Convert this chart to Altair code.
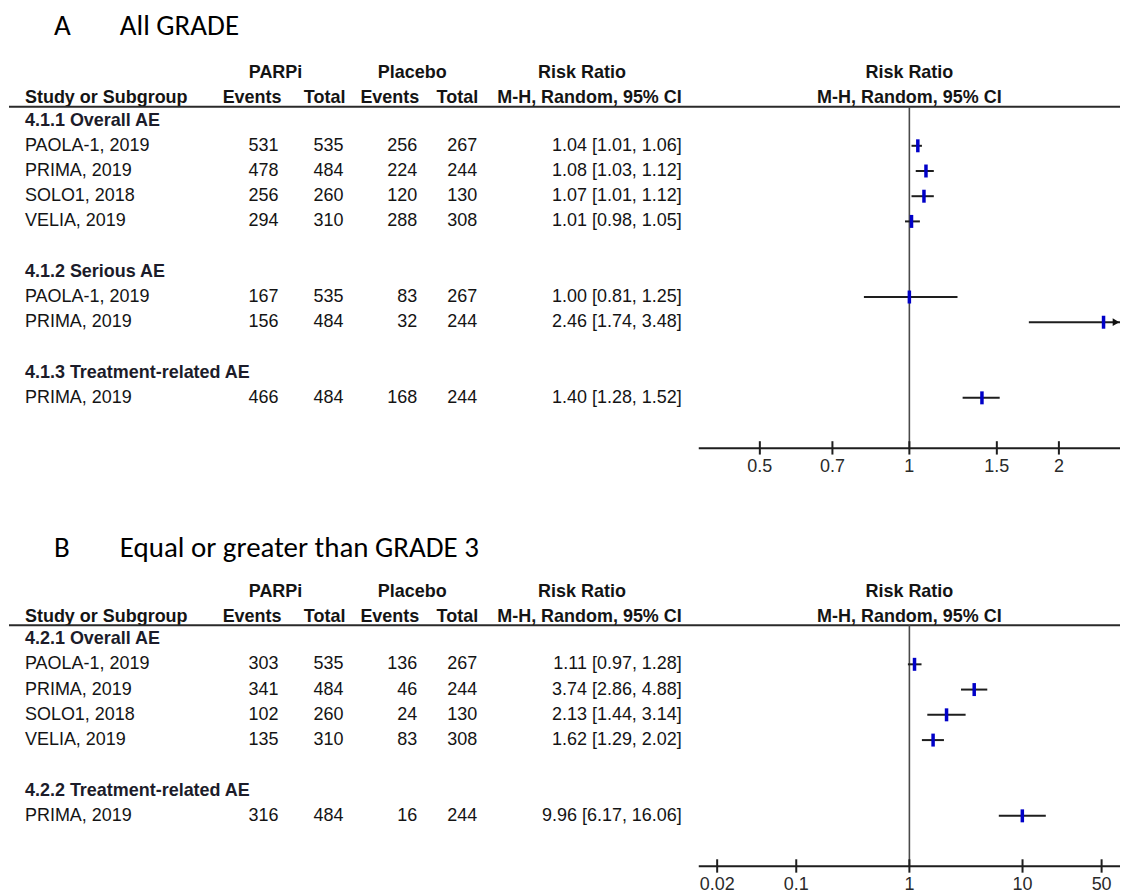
import altair as alt
import pandas as pd

# ---------------- data ----------------
a_groups = ["4.1.1 Overall AE", "4.1.2 Serious AE", "4.1.3 Treatment-related AE"]
a_group = [0, 0, 0, 0, 1, 1, 2]
a_study = ["PAOLA-1, 2019", "PRIMA, 2019", "SOLO1, 2018", "VELIA, 2019",
           "PAOLA-1, 2019", "PRIMA, 2019", "PRIMA, 2019"]
a_parp_events = [531, 478, 256, 294, 167, 156, 466]
a_parp_total = [535, 484, 260, 310, 535, 484, 484]
a_plac_events = [256, 224, 120, 288, 83, 32, 168]
a_plac_total = [267, 244, 130, 308, 267, 244, 244]
a_rr = [1.04, 1.08, 1.07, 1.01, 1.00, 2.46, 1.40]
a_lo = [1.01, 1.03, 1.01, 0.98, 0.81, 1.74, 1.28]
a_hi = [1.06, 1.12, 1.12, 1.05, 1.25, 3.48, 1.52]
a_ticks = [0.5, 0.7, 1, 1.5, 2]
a_tick_labels = ["0.5", "0.7", "1", "1.5", "2"]

b_groups = ["4.2.1 Overall AE", "4.2.2 Treatment-related AE"]
b_group = [0, 0, 0, 0, 1]
b_study = ["PAOLA-1, 2019", "PRIMA, 2019", "SOLO1, 2018", "VELIA, 2019", "PRIMA, 2019"]
b_parp_events = [303, 341, 102, 135, 316]
b_parp_total = [535, 484, 260, 310, 484]
b_plac_events = [136, 46, 24, 83, 16]
b_plac_total = [267, 244, 130, 308, 244]
b_rr = [1.11, 3.74, 2.13, 1.62, 9.96]
b_lo = [0.97, 2.86, 1.44, 1.29, 6.17]
b_hi = [1.28, 4.88, 3.14, 2.02, 16.06]
b_ticks = [0.02, 0.1, 1, 10, 50]
b_tick_labels = ["0.02", "0.1", "1", "10", "50"]

# ---------------- style ----------------
FONT = "Liberation Sans, Arial, Helvetica, sans-serif"
TFONT = "Carlito, Calibri, Lato, sans-serif"
TXT = "#141414"
W = 1113
X_LO, X_HI = 691, 1113          # forest-plot pixel span


def build_panel(letter, title, groups, gidx, study, pe, pt, ce, ct, rr, lo, hi,
                ticks, tick_labels, xdomain, height, y0, rs, title_r):
    # row layout
    r = 0
    header_rows, study_rows = [], [None] * len(study)
    for g in range(len(groups)):
        header_rows.append(r)
        r += 1
        for i, gi in enumerate(gidx):
            if gi == g:
                study_rows[i] = r
                r += 1
        r += 1
    last = max(study_rows)
    axis_r = last + 2.0

    yscale = alt.Scale(domain=[0, 10], range=[y0, y0 + 10 * rs], zero=False, nice=False)
    xscale = alt.Scale(type="log", domain=xdomain, range=[X_LO, X_HI], nice=False)
    Y = lambda f: alt.Y(f, type="quantitative", scale=yscale, axis=None)

    dmin, dmax = xdomain
    df = pd.DataFrame({
        "r": study_rows, "study": study,
        "pe": [str(v) for v in pe], "pt": [str(v) for v in pt],
        "ce": [str(v) for v in ce], "ct": [str(v) for v in ct],
        "ci": [f"{a:.2f} [{b:.2f}, {c:.2f}]" for a, b, c in zip(rr, lo, hi)],
        "rr": rr,
        "lo": [max(v, dmin) for v in lo],
        "hi": [min(v, dmax) for v in hi],
        "arrow": [v > dmax for v in hi],
    })
    gdf = pd.DataFrame({"r": header_rows, "label": groups})

    def txt(data, field, x, align, bold=False, size=18, font=FONT, color=TXT):
        return alt.Chart(data).mark_text(
            align=align, baseline="middle", font=font, fontSize=size,
            fontWeight="bold" if bold else "normal", color=color
        ).encode(x=alt.value(x), y=Y("r"), text=alt.Text(f"{field}:N"))

    def one(label, rpos):
        return pd.DataFrame({"r": [rpos], "label": [label]})

    H1, H2 = -1.88, -0.89
    layers = [
        # titles
        txt(one(letter, title_r), "label", 45, "left", size=29, font=TFONT, color="#000"),
        txt(one(title, title_r), "label", 111, "left", size=29, font=TFONT, color="#000"),
        # header line 1
        txt(one("PARPi", H1), "label", 267, "center", bold=True),
        txt(one("Placebo", H1), "label", 404, "center", bold=True),
        txt(one("Risk Ratio", H1), "label", 574, "center", bold=True),
        txt(one("Risk Ratio", H1), "label", 902, "center", bold=True),
        # header line 2
        txt(one("Study or Subgroup", H2), "label", 16, "left", bold=True),
        txt(one("Events", H2), "label", 273, "right", bold=True),
        txt(one("Total", H2), "label", 337, "right", bold=True),
        txt(one("Events", H2), "label", 411, "right", bold=True),
        txt(one("Total", H2), "label", 470, "right", bold=True),
        txt(one("M-H, Random, 95% CI", H2), "label", 674, "right", bold=True),
        txt(one("M-H, Random, 95% CI", H2), "label", 902, "center", bold=True),
        # underline
        alt.Chart(one("", -0.55)).mark_rule(color="#2a2a2a", strokeWidth=2).encode(
            x=alt.value(0), x2=alt.value(W), y=Y("r")),
        # subgroup headers
        txt(gdf, "label", 16, "left", bold=True, color="#1c1c2a"),
        # table body
        txt(df, "study", 16, "left"),
        txt(df, "pe", 270, "right"),
        txt(df, "pt", 335, "right"),
        txt(df, "ce", 409, "right"),
        txt(df, "ct", 469, "right"),
        txt(df, "ci", 674, "right"),
    ]

    # reference line at 1
    ref = pd.DataFrame({"x": [1.0], "r": [-0.55], "r2": [axis_r]})
    layers.append(alt.Chart(ref).mark_rule(color="#4a4a4a", strokeWidth=1.6).encode(
        x=alt.X("x:Q", scale=xscale, axis=None), y=Y("r"), y2="r2:Q"))

    # axis
    ax = pd.DataFrame({"a": [dmin], "b": [dmax], "r": [axis_r]})
    layers.append(alt.Chart(ax).mark_rule(color="#1e1e1e", strokeWidth=2).encode(
        x=alt.X("a:Q", scale=xscale, axis=None), x2="b:Q", y=Y("r")))
    tk = pd.DataFrame({"t": ticks, "lab": tick_labels,
                       "r1": [axis_r - 0.28] * len(ticks),
                       "r2": [axis_r + 0.25] * len(ticks),
                       "rl": [axis_r + 0.73] * len(ticks)})
    layers.append(alt.Chart(tk).mark_rule(color="#1e1e1e", strokeWidth=2).encode(
        x=alt.X("t:Q", scale=xscale, axis=None), y=Y("r1"), y2="r2:Q"))
    layers.append(alt.Chart(tk).mark_text(
        align="center", baseline="middle", font=FONT, fontSize=18, color="#2a2a2a"
    ).encode(x=alt.X("t:Q", scale=xscale, axis=None), y=Y("rl"), text="lab:N"))

    # confidence intervals and point estimates
    layers.append(alt.Chart(df).mark_rule(color="#1e1e1e", strokeWidth=2).encode(
        x=alt.X("lo:Q", scale=xscale, axis=None), x2="hi:Q", y=Y("r")))
    layers.append(alt.Chart(df).mark_tick(
        orient="vertical", size=13, thickness=3.5, color="#0000c8", opacity=1
    ).encode(x=alt.X("rr:Q", scale=xscale, axis=None), y=Y("r")))
    arr = df[df["arrow"]]
    if len(arr):
        layers.append(alt.Chart(arr).mark_point(
            shape="triangle-right", filled=True, size=60, color="#111", opacity=1, xOffset=-4
        ).encode(x=alt.X("hi:Q", scale=xscale, axis=None), y=Y("r")))

    return alt.layer(*layers).properties(width=W, height=height)


panel_a = build_panel("A", "All GRADE", a_groups, a_group, a_study,
                      a_parp_events, a_parp_total, a_plac_events, a_plac_total,
                      a_rr, a_lo, a_hi, a_ticks, a_tick_labels,
                      [0.3767, 2.655], 500, 112.0, 25.25, -3.74)
panel_b = build_panel("B", "Equal or greater than GRADE 3", b_groups, b_group, b_study,
                      b_parp_events, b_parp_total, b_plac_events, b_plac_total,
                      b_rr, b_lo, b_hi, b_ticks, b_tick_labels,
                      [0.01375, 72.7], 378, 131.4, 25.3, -3.6)

chart = alt.vconcat(panel_a, panel_b, spacing=0, padding=0, background="white").configure_view(
    stroke="transparent", strokeWidth=0)
chart.save("out.html", embed_options={"renderer": "svg", "actions": False})
